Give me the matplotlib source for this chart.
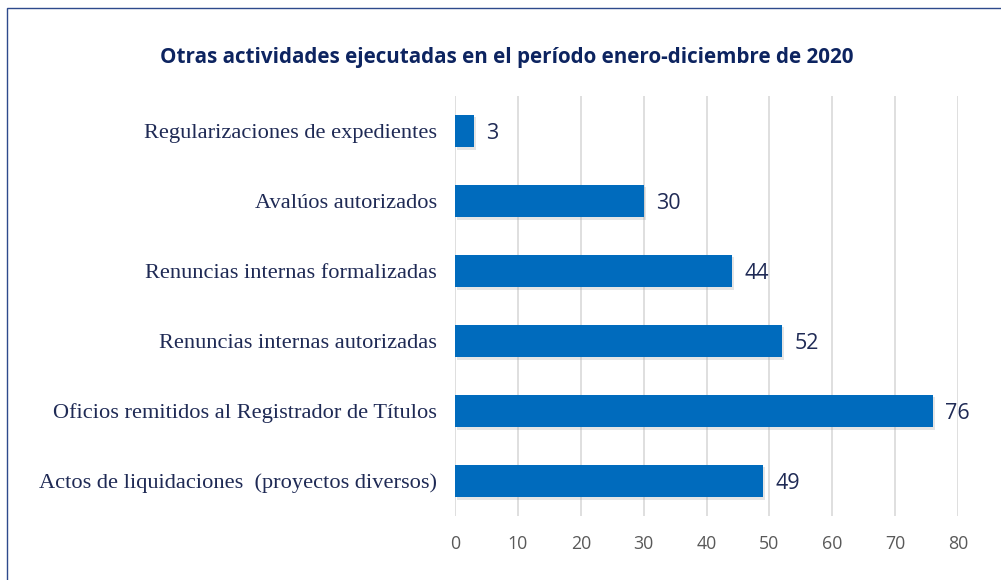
import matplotlib
matplotlib.use("Agg")
import matplotlib.pyplot as plt
import matplotlib.patches as mpatches
import matplotlib.patheffects as pe

categories = [
    "Regularizaciones de expedientes",
    "Avalúos autorizados",
    "Renuncias internas formalizadas",
    "Renuncias internas autorizadas",
    "Oficios remitidos al Registrador de Títulos",
    "Actos de liquidaciones  (proyectos diversos)",
]
values = [3, 30, 44, 52, 76, 49]
xticks = [0, 10, 20, 30, 40, 50, 60, 70, 80]
title = "Otras actividades ejecutadas en el período enero-diciembre de 2020"

W, H = 1001, 580
fig = plt.figure(figsize=(W / 100, H / 100), dpi=100)
fig.patch.set_facecolor("white")

# frame border (top and left visible)
border = mpatches.Rectangle((7 / W, -0.2), 1.2, (H - 8) / H + 0.2,
                            transform=fig.transFigure, fill=False,
                            edgecolor="#2E4A8C", linewidth=1.0, clip_on=False)
fig.patches.append(border)

ax = fig.add_axes([455 / W, 1 - 516 / H, (958 - 455) / W, (516 - 96) / H])
ypos = list(range(len(categories)))
bars = ax.barh(ypos, values, height=0.47, color="#006BBD", zorder=3)
for b in bars:
    b.set_path_effects([pe.SimplePatchShadow(offset=(1.5, -1.5), shadow_rgbFace="#999999", alpha=0.25), pe.Normal()])

ax.set_xlim(0, 80)
ax.set_ylim(len(categories) - 0.5, -0.5)
ax.set_xticks(xticks)
ax.set_xticklabels([str(t) for t in xticks], fontsize=12.8, color="#595959", family="Open Sans")
ax.set_yticks(ypos)
ax.set_yticklabels(categories, fontsize=16.1, color="#1F2A55", family="Liberation Serif")
ax.tick_params(axis="y", length=0, pad=13)
ax.tick_params(axis="x", length=0, pad=14)
ax.grid(axis="x", color="#D9D9D9", linewidth=1.2, zorder=0)
for s in ax.spines.values():
    s.set_visible(False)

for y, v in zip(ypos, values):
    ax.text(v + 2.0, y + 0.03, str(v), va="center", ha="left", fontsize=15.5,
            color="#1F2A55", family="Open Sans")

fig.text(507 / W, 1 - 57 / H, title, ha="center", va="center", fontsize=14.85,
         fontweight="bold", color="#0D2460", family="Open Sans")

fig.savefig("out.png", dpi=100)
